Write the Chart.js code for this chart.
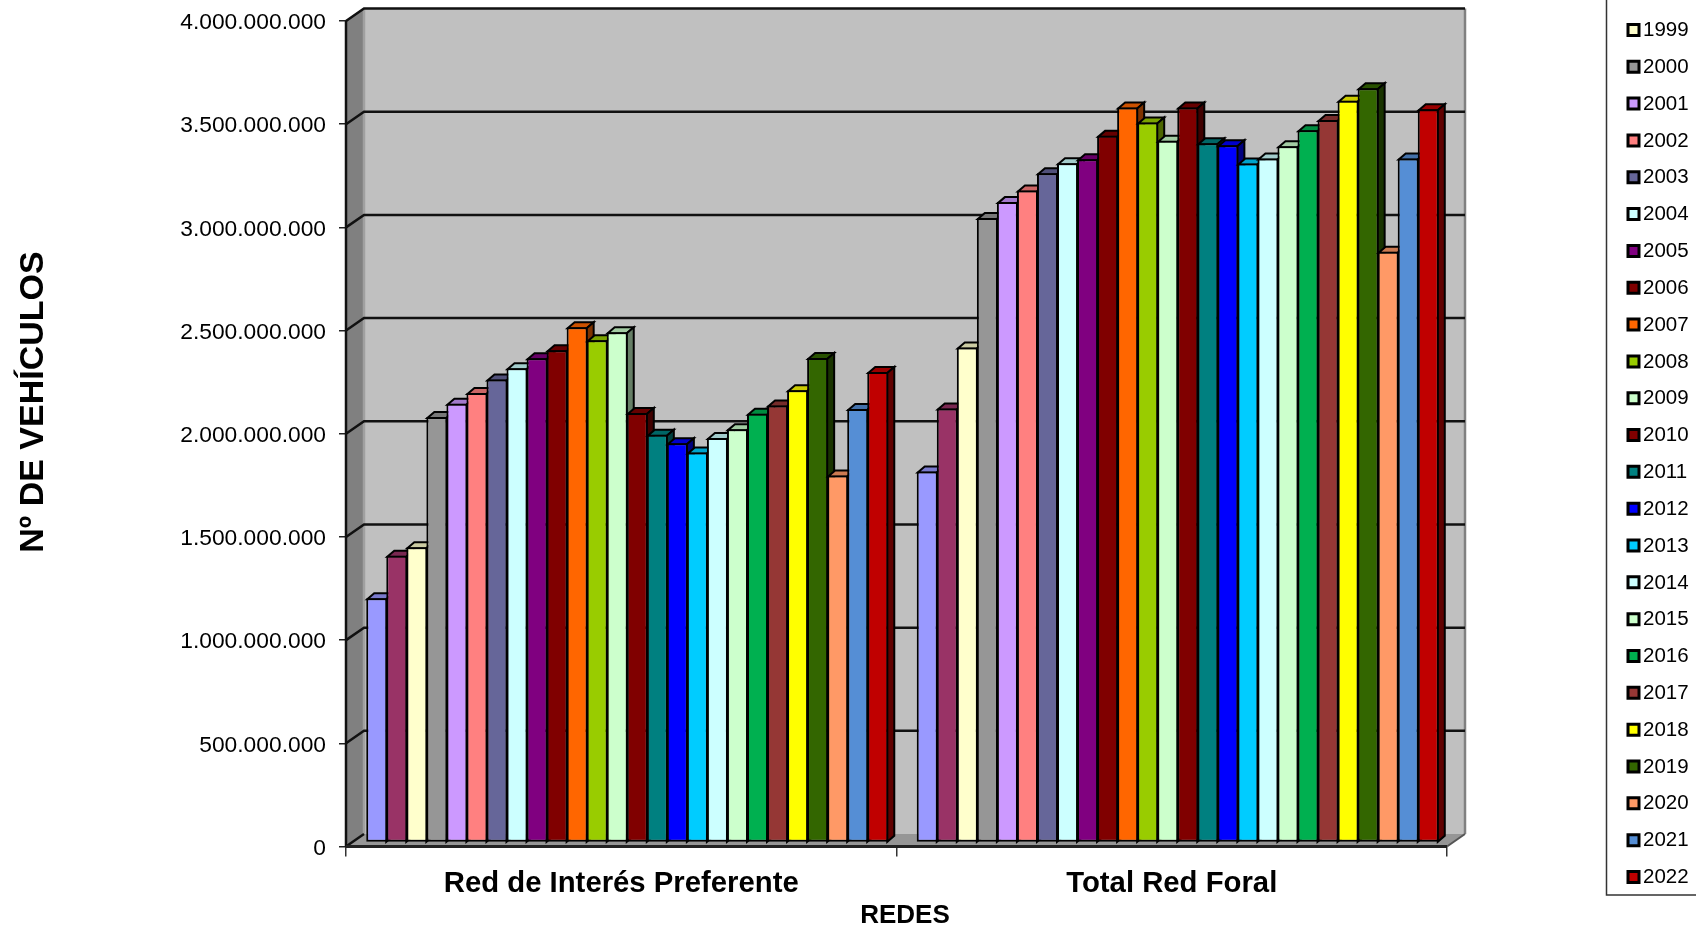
<!DOCTYPE html>
<html><head><meta charset="utf-8">
<style>html,body{margin:0;padding:0;background:#fff;overflow:hidden}canvas{display:block}</style>
<script src="https://cdn.jsdelivr.net/npm/chart.js@4"></script>
</head><body><canvas id="c" width="1696" height="928"></canvas>
<script>
const categories = ['Red de Interés Preferente', 'Total Red Foral'];
const years = ['1997','1998','1999','2000','2001','2002','2003','2004','2005','2006','2007','2008','2009','2010','2011','2012','2013','2014','2015','2016','2017','2018','2019','2020','2021','2022'];
const colors = ['#9999FF','#993366','#FFFFCC','#969696','#CC99FF','#FF8080','#666699','#CCFFFF','#800080','#800000','#FF6600','#99CC00','#CCFFCC','#800000','#008080','#0000FF','#00CCFF','#CCFFFF','#CCFFCC','#00B050','#953735','#FFFF00','#336600','#FF9966','#558ED5','#C00000'];
const redInteresPreferente = [1183,1390,1431,2062,2126,2178,2243,2298,2346,2385,2497,2434,2472,2081,1976,1935,1890,1960,2003,2078,2117,2191,2348,1778,2100,2280];
const totalRedForal = [1798,2103,2398,3026,3103,3159,3243,3291,3311,3424,3562,3489,3400,3562,3388,3379,3290,3314,3374,3451,3501,3594,3655,2863,3314,3553];
const yAxisTitle = 'Nº DE VEHÍCULOS';
const xAxisTitle = 'REDES';
const FONT = '"Liberation Sans", Arial, sans-serif';

const shade = (hex, f) => {
  const n = parseInt(hex.slice(1), 16);
  return `rgb(${(n>>16&255)*f|0},${(n>>8&255)*f|0},${(n&255)*f|0})`;
};
const WALL = {dx:18, dy:12.5}, BAR = {dx:6, dy:4, depthX:7, depthY:6};

function poly(ctx, pts, fill, stroke, lw){
  ctx.beginPath();
  pts.forEach((p,i)=> i?ctx.lineTo(p[0],p[1]):ctx.moveTo(p[0],p[1]));
  ctx.closePath();
  if(fill){ctx.fillStyle=fill;ctx.fill();}
  if(stroke){ctx.strokeStyle=stroke;ctx.lineWidth=lw||1.5;ctx.lineJoin='miter';ctx.stroke();}
}

const scene = {
  id:'scene',
  beforeDraw(chart){
    // the tick labels sit centred on their ticks by the digit height
    chart.scales.y.getLabelItems().forEach(it=>{ it.options.translation[1]+=2; });
  },
  beforeDatasetsDraw(chart){
    const ctx = chart.ctx, a = chart.chartArea, ys = chart.scales.y;
    const {left:l,right:r,top:t,bottom:b} = a, dx=WALL.dx, dy=WALL.dy;
    ctx.save();
    poly(ctx,[[l+dx,t-dy],[r+dx,t-dy],[r+dx,b-dy],[l+dx,b-dy]],'#C0C0C0');
    poly(ctx,[[l,b],[l,t],[l+dx,t-dy],[l+dx,b-dy]],'#808080');
    poly(ctx,[[l,b],[r,b],[r+dx,b-dy],[l+dx,b-dy]],'#969696');
    ctx.strokeStyle='#808080';ctx.lineWidth=2.5;
    ctx.beginPath();ctx.moveTo(r+dx,t-dy);ctx.lineTo(r+dx,b-dy);ctx.stroke();
    ctx.beginPath();ctx.moveTo(l+dx,t-dy);ctx.lineTo(l+dx,b-dy);ctx.strokeStyle='#A0A0A0';ctx.stroke();
    ctx.strokeStyle='#111';ctx.lineWidth=2.5;
    ys.ticks.forEach(tk=>{
      const y=ys.getPixelForValue(tk.value);
      ctx.beginPath();
      if(tk.value===0){ctx.moveTo(l,y);ctx.lineTo(l+dx,y-dy);}
      else{ctx.moveTo(l,y);ctx.lineTo(l+dx,y-dy);ctx.lineTo(r+dx,y-dy);}
      ctx.stroke();
    });
    ctx.beginPath();ctx.moveTo(l,b);ctx.lineTo(l,t);ctx.stroke();
    ctx.strokeStyle='#555';ctx.lineWidth=2;
    ctx.beginPath();ctx.moveTo(r,b);ctx.lineTo(r+dx,b-dy);ctx.stroke();
    ctx.strokeStyle='#222';ctx.lineWidth=3;
    ctx.beginPath();ctx.moveTo(l,b);ctx.lineTo(r,b);ctx.stroke();

    ctx.translate(BAR.dx,-BAR.dy);
    const n = chart.data.labels.length, metas = chart.data.datasets.map((d,i)=>chart.getDatasetMeta(i));
    for(let c=0;c<n;c++){
      metas.forEach((m,i)=>{
        const e=m.data[c], col=chart.data.datasets[i].backgroundColor;
        const x0=e.x-e.width/2+1, x1=e.x+e.width/2-1, y=e.y+1, bt=e.base;
        const X=BAR.depthX, Y=BAR.depthY;
        poly(ctx,[[x0,y],[x0+X,y-Y],[x1+X,y-Y],[x1,y]],shade(col,.8),'#000',2);
        poly(ctx,[[x1,y],[x1+X,y-Y],[x1+X,bt-Y],[x1,bt]],shade(col,.5),'#000',2);
        e.draw(ctx);
      });
    }
    ctx.restore();

    // axis titles
    ctx.save();
    ctx.fillStyle='#000';ctx.textAlign='center';ctx.textBaseline='middle';
    ctx.font='bold 26px '+FONT;
    ctx.fillText(xAxisTitle,905,916);
    ctx.translate(34,402);ctx.rotate(-Math.PI/2);
    ctx.font='bold 34px '+FONT;
    ctx.fillText(yAxisTitle,0,0);
    ctx.restore();

    // legend
    ctx.save();
    ctx.strokeStyle='#333';ctx.lineWidth=1.5;
    ctx.strokeRect(1606.5,-80,200,975);
    ctx.font='20.5px '+FONT;ctx.textAlign='left';ctx.textBaseline='middle';
    chart.data.datasets.forEach((d,i)=>{
      const cy=877-(25-i)*36.83;
      ctx.fillStyle=d.backgroundColor;ctx.strokeStyle='#000';ctx.lineWidth=3;
      ctx.beginPath();ctx.rect(1628,cy-5.5,11,11);ctx.fill();ctx.stroke();
      ctx.fillStyle='#000';ctx.fillText(d.label,1643,cy+.5);
    });
    ctx.restore();
    return false;
  }
};

new Chart(document.getElementById('c'),{
  type:'bar',
  data:{labels:categories,datasets:years.map((y,i)=>({
    label:y,
    data:[redInteresPreferente[i]*1e6,totalRedForal[i]*1e6],
    backgroundColor:colors[i],borderColor:'#000',borderWidth:2,borderSkipped:false
  }))},
  options:{
    responsive:false,animation:false,
    layout:{padding:{top:21,right:249,left:0,bottom:0}},
    plugins:{legend:{display:false},tooltip:{enabled:false}},
    datasets:{bar:{categoryPercentage:0.9465,barPercentage:1.05}},
    scales:{
      x:{
        afterFit:s=>{s.height=81.5;s.paddingLeft=0;s.paddingRight=0},
        border:{display:false},
        grid:{drawOnChartArea:false,tickLength:10,color:'#333',lineWidth:1.5},
        ticks:{color:'#000',font:{family:FONT,size:29.3,weight:'bold'},padding:10,maxRotation:0,autoSkip:false}
      },
      y:{
        min:0,max:4e9,
        afterFit:s=>{s.width=346;s.paddingTop=0;s.paddingBottom=0},
        border:{display:false},
        grid:{drawOnChartArea:false,tickLength:7,color:'#222',lineWidth:1.5},
        ticks:{stepSize:5e8,color:'#000',font:{family:FONT,size:22.8},padding:13,
          callback:v=>String(v).replace(/\B(?=(\d{3})+$)/g,'.')}
      }
    }
  },
  plugins:[scene]
});
</script></body></html>
